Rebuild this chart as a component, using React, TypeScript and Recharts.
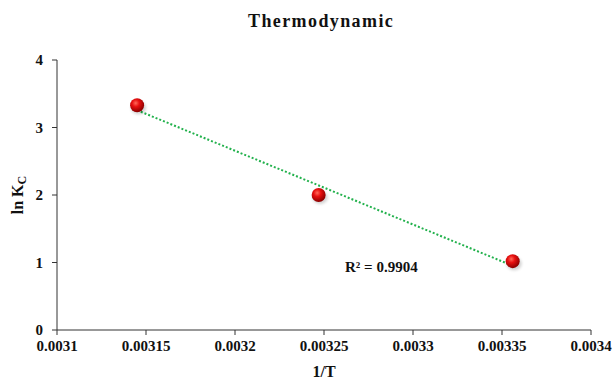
import { ScatterChart, Scatter, XAxis, YAxis, Label } from "recharts";

// 1/T (K^-1) and ln Kc
const invT = [0.003145, 0.003247, 0.003356];
const lnKc = [3.33, 2.0, 1.02];
const xTicks = [0.0031, 0.00315, 0.0032, 0.00325, 0.0033, 0.00335, 0.0034];
const yTicks = [0, 1, 2, 3, 4];
const rSquaredText = "R² = 0.9904";

const points = invT.map((x, i) => ({ x, y: lnKc[i] }));

// least squares trendline, drawn between the first and last point
function trendline() {
    const n = invT.length;
    const mx = invT.reduce((a, b) => a + b, 0) / n;
    const my = lnKc.reduce((a, b) => a + b, 0) / n;
    let sxy = 0;
    let sxx = 0;
    invT.forEach((x, i) => {
        sxy += (x - mx) * (lnKc[i] - my);
        sxx += (x - mx) * (x - mx);
    });
    const slope = sxy / sxx;
    const xs = [invT[0], invT[n - 1]];
    return xs.map((x) => ({ x, y: my + slope * (x - mx) }));
}

const trend = trendline();
const font = "'Liberation Serif', 'Times New Roman', serif";
const tickStyle = { fontFamily: font, fontWeight: "bold", fontSize: 15, fill: "#111" };

function Ball(props: any) {
    const { cx, cy } = props;
    if (cx == null || cy == null) return null;
    return (
        <g>
            <ellipse cx={cx + 1.5} cy={cy + 2.5} rx={7.5} ry={6.5} fill="#000" opacity={0.18} filter="url(#blur)" />
            <circle cx={cx} cy={cy} r={7} fill="url(#ball)" />
        </g>
    );
}

function YLabel(props: any) {
    const { viewBox } = props;
    const cx = 23;
    const cy = viewBox.y + viewBox.height / 2;
    return (
        <text
            x={cx}
            y={cy}
            transform={`rotate(-90 ${cx} ${cy})`}
            textAnchor="middle"
            fontFamily={font}
            fontWeight="bold"
            fontSize={16}
            fill="#111"
        >
            ln K
            <tspan fontSize={12} dy={3}>C</tspan>
        </text>
    );
}

export default function App() {
    return (
        <div style={{ position: "absolute", left: 0, top: 0, width: 614, height: 379, background: "#fff" }}>
            <div
                style={{
                    position: "absolute",
                    top: 11,
                    left: 248,
                    fontFamily: font,
                    fontWeight: "bold",
                    fontSize: 18,
                    letterSpacing: 1.4,
                    lineHeight: "20px",
                    color: "#111",
                }}
            >
                Thermodynamic
            </div>
            <ScatterChart width={614} height={379} margin={{ top: 60, right: 23, bottom: 0, left: 0 }}>
                <defs>
                    <radialGradient id="ball" cx="40%" cy="35%" r="65%">
                        <stop offset="0%" stopColor="#ff6a5a" />
                        <stop offset="40%" stopColor="#e81010" />
                        <stop offset="100%" stopColor="#8a0000" />
                    </radialGradient>
                    <filter id="blur" x="-50%" y="-50%" width="200%" height="200%">
                        <feGaussianBlur stdDeviation="1.5" />
                    </filter>
                </defs>
                <XAxis
                    type="number"
                    dataKey="x"
                    domain={[0.0031, 0.0034]}
                    ticks={xTicks}
                    allowDataOverflow
                    height={49}
                    stroke="#333"
                    tickSize={5}
                    tickMargin={5}
                    tick={tickStyle}
                    tickFormatter={(v: number) => String(Number(v.toFixed(5)))}
                >
                    <Label
                        value="1/T"
                        position="insideBottom"
                        offset={2}
                        style={{ fontFamily: font, fontWeight: "bold", fontSize: 16, fill: "#111" }}
                    />
                </XAxis>
                <YAxis
                    type="number"
                    dataKey="y"
                    domain={[0, 4]}
                    ticks={yTicks}
                    width={57}
                    stroke="#333"
                    tickSize={5}
                    tickMargin={9}
                    tick={tickStyle}
                    label={<YLabel />}
                />
                <Scatter
                    data={trend}
                    line={{ stroke: "#22b14c", strokeWidth: 2, strokeDasharray: "2 2" }}
                    shape={() => null}
                    isAnimationActive={false}
                />
                <Scatter data={points} shape={<Ball />} isAnimationActive={false} />
                <text x={345} y={272} fontFamily={font} fontWeight="bold" fontSize={15} fill="#111">
                    {rSquaredText}
                </text>
            </ScatterChart>
        </div>
    );
}
